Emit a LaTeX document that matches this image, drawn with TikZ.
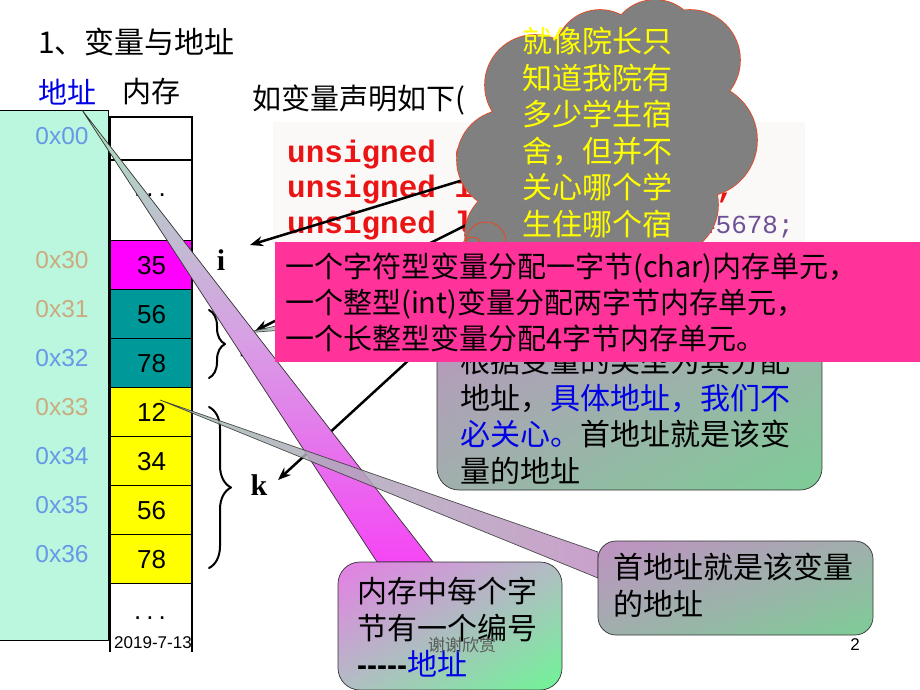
\documentclass[tikz,border=0pt]{standalone}
\usepackage{fontspec}
\setmainfont{Liberation Sans}
\newfontfamily\cjk{Noto Sans CJK SC}
\newfontfamily\codefont{Liberation Mono}
\newfontfamily\romfont{Liberation Serif}
\usetikzlibrary{arrows.meta,shadings,decorations.pathreplacing}

\definecolor{addrgreen}{RGB}{187,247,222}
\definecolor{addrblue}{RGB}{102,153,230}
\definecolor{addrtan}{RGB}{204,170,128}
\definecolor{cmag}{RGB}{255,0,255}
\definecolor{cteal}{RGB}{0,153,153}
\definecolor{cyel}{RGB}{255,255,0}
\definecolor{codered}{RGB}{235,20,20}
\definecolor{codepurple}{RGB}{110,80,150}
\definecolor{codebg}{RGB}{251,248,248}
\definecolor{cloudgray}{RGB}{128,128,128}
\definecolor{cloudred}{RGB}{235,70,30}
\definecolor{hotpink}{RGB}{255,51,153}
\definecolor{txtblue}{RGB}{0,0,230}
\definecolor{tipgreen}{RGB}{165,225,185}
\definecolor{stripemid}{RGB}{215,160,228}
\definecolor{stripelow}{RGB}{245,70,245}
\definecolor{violet1}{RGB}{230,125,230}
\definecolor{green1}{RGB}{110,245,150}
\definecolor{mid1}{RGB}{178,190,195}
\definecolor{violet2}{RGB}{192,145,195}
\definecolor{green2}{RGB}{125,205,150}
\definecolor{mid2}{RGB}{160,175,172}
\definecolor{graygreen}{RGB}{165,190,180}

\newcommand{\setfs}[2]{\fontsize{#1}{#2}\selectfont}

\tikzset{
  cell/.style={draw, line width=1.2pt, minimum width=82pt, minimum height=49pt, inner sep=0pt, font=\setfs{26}{30}},
  addr/.style={font=\setfs{24.5}{28}},
  zh/.style={font=\cjk\setfs{30}{36.5}, inner sep=0pt, align=left},
  varlab/.style={font=\romfont\bfseries\setfs{30}{34}, inner sep=0pt},
  codeln/.style={font=\codefont\bfseries\setfs{31}{36}, text=codered, inner sep=0pt, anchor=base west},
  ptr/.style={line width=2.5pt, ->},
  callout/.style={draw=black!80, line width=0.7pt, rounded corners=22pt},
  wedge/.style={draw=black!80, line width=0.7pt},
  footer/.style={font=\setfs{17}{20}, inner sep=0pt}
}

\begin{document}
\begin{tikzpicture}[x=1pt,y=-1pt,line join=round,line cap=round,>={Stealth[length=13pt,width=10pt]}]
\useasboundingbox (0,0) rectangle (920,690);

% address panel
\draw[fill=addrgreen, line width=0.8pt] (-2,110) rectangle (108,640);
\node[addr, text=addrblue] (addr00) at (62,136) {0x00};

% memory column
\draw[line width=1.2pt] (110,160) -- (192,160);
\foreach \n/\yy/\fc/\val/\ac in {30/240/cmag/35/addrtan, 31/289/cteal/56/addrtan, 32/338/cteal/78/addrblue, 33/387/cyel/12/addrtan, 34/436/cyel/34/addrblue, 35/485/cyel/56/addrblue, 36/534/cyel/78/addrblue}
{
  \node[cell, fill=\fc, anchor=north west] (cell\n) at (110,\yy) {\val};
  \node[addr, text=\ac] (addr\n) at (62,\yy+20) {0x\n};
}
\draw[line width=2.5pt] (110,117) -- (192,117);
\draw[line width=2.5pt, line cap=butt] (110,116) -- (110,652) (192,116) -- (192,652);
\node[font=\setfs{26}{30}] (dots1) at (150,195) {.\hspace{5pt}.\hspace{5pt}.};
\node[font=\setfs{26}{30}] (dots2) at (150,618) {.\hspace{5pt}.\hspace{5pt}.};

% headings
\node[zh, anchor=west] (title) at (38,42) {1、变量与地址};
\node[zh, anchor=west, font=\cjk\setfs{29}{34}, text=txtblue] (addrhead) at (38,92) {地址};
\node[zh, anchor=west, font=\cjk\setfs{29}{34}] (memhead) at (122,92) {内存};
\node[zh, anchor=west, font=\cjk\setfs{29}{34}] (decl) at (252,100) {如变量声明如下(};

% code
\fill[codebg] (273,122) rectangle (805,245);
\node[codeln] (code1) at (287,162) {unsigned char i = 0x35;};
\node[codeln] (code2) at (287,197) {unsigned int j = 0x5678;};
\node[codeln] (code3) at (287,233) {unsigned long k = {\mdseries\setfs{26}{30}\color{codepurple}0x12345678;}};
\coordinate (vi) at (555,152);
\coordinate (vj) at (540,188);
\coordinate (vk) at (555,226);

% braces and variables
\draw[decorate, decoration={brace, amplitude=16pt}, line width=2pt] (209,310) -- (209,378);
\draw[decorate, decoration={brace, amplitude=22pt}, line width=2pt] (209,407) -- (209,568);
\node[varlab] (ilab) at (221,260) {i};
\node[varlab] (jlab) at (246,343) {j};
\node[varlab] (klab) at (259,485) {k};
\coordinate (ihead) at (250,245);
\coordinate (jhead) at (255,331);
\coordinate (khead) at (278,480);
\draw[ptr] (vi) -- (ihead);
\draw[ptr] (vj) -- (jhead);
\draw[ptr] (vk) -- (khead);

% callout: type
\shadedraw[wedge, opacity=0.85, left color=graygreen, right color=graygreen!80!violet2] (244,333) -- (440,290) -- (440,318) -- cycle;
\shadedraw[callout, upper left=violet2, lower right=green2, upper right=mid2, lower left=mid2] (437,285) rectangle (822,490);
\node[zh, anchor=north west] (ctxt) at (460,347) {根据变量的类型为其分配\\地址，\textcolor{txtblue}{具体地址，我们不}\\\textcolor{txtblue}{必关心。}首地址就是该变\\量的地址};

% callout: address
\shadedraw[wedge, top color=tipgreen, bottom color=stripelow, middle color=stripemid] (82,110) -- (433,562) -- (377,562) -- cycle;
\shadedraw[callout, upper left=violet1, lower right=green1, upper right=mid1, lower left=mid1] (338,562) rectangle (562,690);
\node[zh, anchor=north west] (atxt) at (357,577) {内存中每个字\\节有一个编号\\{\normalfont\bfseries -{}-{}-{}-{}-}\textcolor{txtblue}{地址}};

% callout: first address
\shadedraw[wedge, opacity=0.85, left color=graygreen, right color=violet2] (160,400) -- (598,552) -- (598,578) -- cycle;
\shadedraw[callout, rounded corners=18pt, upper left=violet2, lower right=green2, upper right=mid2, lower left=mid2] (598,541) rectangle (873,635);
\node[zh, anchor=north west] (btxt) at (613,553) {首地址就是该变量\\的地址};

% thought cloud
\draw[cloudred, line width=1.6pt] \foreach \cx/\cy/\r in {535/85/50, 600/55/45, 655/45/45, 690/60/50, 700/140/57, 668/205/50, 507/160/50, 513/235/48, 610/150/90, 600/215/50} {(\cx,\cy) circle[radius=\r pt]};
\fill[cloudgray] \foreach \cx/\cy/\r in {535/85/50, 600/55/45, 655/45/45, 690/60/50, 700/140/57, 668/205/50, 507/160/50, 513/235/48, 610/150/90, 600/215/50} {(\cx,\cy) circle[radius=\r pt]};
\draw[cloudred, line width=0.8pt] (486,242) circle[radius=20pt] (472,247) circle[radius=10pt];
\node[zh, anchor=north west, text=cyel] (cloudtxt) at (522,27) {就像院长只\\知道我院有\\多少学生宿\\舍，但并不\\关心哪个学\\生住哪个宿};

% note
\fill[hotpink] (275,242) rectangle (922,362);
\node[zh, anchor=north west, font=\cjk\setfs{29}{36}] (pinktxt) at (285,253) {一个字符型变量分配一字节(char)内存单元，\\一个整型(int)变量分配两字节内存单元，\\一个长整型变量分配4字节内存单元。};

% footer
\node[footer] (date) at (153,643) {2019-7-13};
\node[footer, font=\cjk\setfs{17}{20}, text=black!65] (thanks) at (462,645) {谢谢欣赏};
\node[footer] (pageno) at (855,645) {2};
\end{tikzpicture}
\end{document}
